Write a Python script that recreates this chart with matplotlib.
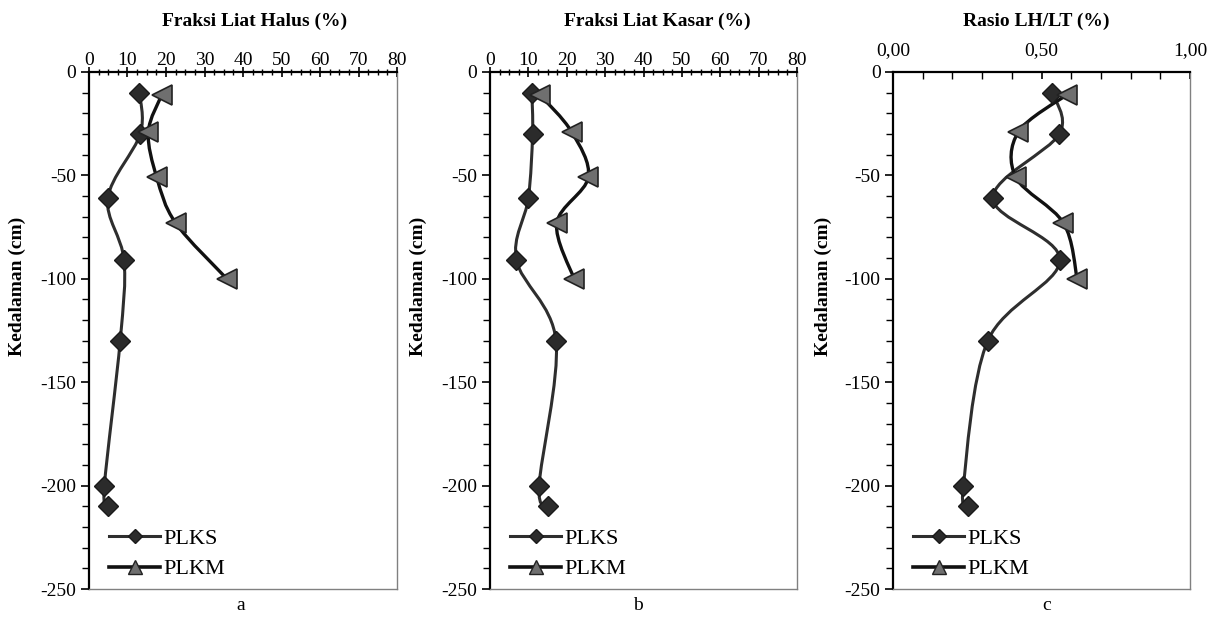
import matplotlib.pyplot as plt
import numpy as np
from matplotlib.path import Path
from matplotlib.patches import PathPatch
from matplotlib.lines import Line2D
from matplotlib.ticker import MultipleLocator, FixedLocator

plt.rcParams['font.family'] = ['Liberation Serif', 'DejaVu Serif']
plt.rcParams['axes.unicode_minus'] = False

# depths (cm)
depth_plks = [-10, -30, -61, -91, -130, -200, -210]
depth_plkm = [-11, -29, -51, -73, -100]

# a: fine clay fraction (%)
halus_plks = [13.1, 13.3, 4.9, 9.1, 8.1, 4.0, 4.9]
halus_plkm = [18.9, 15.4, 17.6, 22.5, 35.8]

# b: coarse clay fraction (%)
kasar_plks = [10.9, 11.1, 10.0, 6.9, 17.2, 12.8, 15.2]
kasar_plkm = [13.0, 21.3, 25.6, 17.4, 21.9]

# c: ratio LH/LT
rasio_plks = [0.536, 0.560, 0.336, 0.562, 0.319, 0.237, 0.251]
rasio_plkm = [0.585, 0.422, 0.414, 0.574, 0.620]

titles = ['Fraksi Liat Halus (%)', 'Fraksi Liat Kasar (%)', 'Rasio LH/LT (%)']
captions = ['a', 'b', 'c']

PX_W, PX_H = 1218, 617


def smooth_path(xs, ys):
    """Excel-like smoothed line as cubic Bezier segments"""
    pts = np.column_stack([xs, ys]).astype(float)
    n = len(pts)
    verts = [pts[0]]
    codes = [Path.MOVETO]
    for i in range(n - 1):
        p0 = pts[i - 1] if i > 0 else pts[i]
        p1, p2 = pts[i], pts[i + 1]
        p3 = pts[i + 2] if i + 2 < n else pts[i + 1]
        c1 = p1 + (p2 - p0) / 6.0
        c2 = p2 - (p3 - p1) / 6.0
        verts += [c1, c2, p2]
        codes += [Path.CURVE4] * 3
    return Path(verts, codes)


def fig_rect(x0, x1, y0, y1):
    return [x0 / PX_W, 1 - y1 / PX_H, (x1 - x0) / PX_W, (y1 - y0) / PX_H]


fig = plt.figure(figsize=(12.18, 6.17), dpi=100)

rects = [fig_rect(89, 397, 72, 589), fig_rect(490, 797, 72, 589), fig_rect(893, 1190, 72, 589)]
data = [(halus_plks, halus_plkm), (kasar_plks, kasar_plkm), (rasio_plks, rasio_plkm)]
title_x = [255, 657, 1036]
cap_x = [241, 638, 1047]

for k, (rect, (s_plks, s_plkm)) in enumerate(zip(rects, data)):
    ax = fig.add_axes(rect)

    # smoothed lines
    ax.add_patch(PathPatch(smooth_path(s_plks, depth_plks), fill=False,
                           edgecolor='#2e2e2e', linewidth=2.2, zorder=2))
    ax.add_patch(PathPatch(smooth_path(s_plkm, depth_plkm), fill=False,
                           edgecolor='#111111', linewidth=2.4, zorder=2))
    # markers
    ax.plot(s_plks, depth_plks, linestyle='none', marker='D', markersize=10,
            markerfacecolor='#2b2b2b', markeredgecolor='#1a1a1a', zorder=3)
    ax.plot(s_plkm, depth_plkm, linestyle='none', marker='<', markersize=15,
            markerfacecolor='#6f6f6f', markeredgecolor='#222222', markeredgewidth=1.2, zorder=4)

    ax.set_ylim(-250, 0)
    ax.yaxis.set_major_locator(MultipleLocator(50))
    ax.yaxis.set_minor_locator(MultipleLocator(10))
    ax.tick_params(axis='y', which='major', direction='out', length=6, width=1.2,
                   labelsize=14, pad=3)
    ax.tick_params(axis='y', which='minor', direction='out', length=5, width=1.0)

    ax.xaxis.set_ticks_position('top')
    ax.xaxis.set_label_position('top')
    if k < 2:
        ax.set_xlim(0, 80)
        ax.xaxis.set_major_locator(MultipleLocator(10))
        ax.xaxis.set_minor_locator(MultipleLocator(2.5))
        ax.tick_params(axis='x', which='major', direction='inout', length=7, width=1.2,
                       labelsize=14, pad=-1)
        ax.tick_params(axis='x', which='minor', direction='inout', length=5, width=1.0)
    else:
        ax.set_xlim(0, 1)
        ax.xaxis.set_major_locator(FixedLocator([0, 0.5, 1.0]))
        ax.set_xticklabels(['0,00', '0,50', '1,00'])
        ax.xaxis.set_minor_locator(MultipleLocator(0.1))
        ax.tick_params(axis='x', which='major', direction='in', length=5, width=1.2,
                       labelsize=14, pad=9)
        ax.tick_params(axis='x', which='minor', direction='in', length=5, width=1.0)

    for side in ['left', 'top']:
        ax.spines[side].set_color('black')
        ax.spines[side].set_linewidth(1.6)
    for side in ['right', 'bottom']:
        ax.spines[side].set_color('#808080')
        ax.spines[side].set_linewidth(1.0)

    ax.set_ylabel('Kedalaman (cm)', fontsize=14, fontweight='bold')
    ax.yaxis.set_label_coords(-0.205, 0.586)

    handles = [
        Line2D([], [], color='#2e2e2e', linewidth=2.2, marker='D', markersize=7,
               markerfacecolor='#2b2b2b', markeredgecolor='#1a1a1a'),
        Line2D([], [], color='#111111', linewidth=2.6, marker='^', markersize=10,
               markerfacecolor='#6f6f6f', markeredgecolor='#222222'),
    ]
    ax.legend(handles, ['PLKS', 'PLKM'], loc='lower left', frameon=False,
              fontsize=16, handlelength=2.3, handletextpad=0.15, labelspacing=0.45,
              bbox_to_anchor=(0.0, -0.02))

    fig.text(title_x[k] / PX_W, 1 - 21 / PX_H, titles[k], ha='center', va='center',
             fontsize=14, fontweight='bold')
    fig.text(cap_x[k] / PX_W, 1 - 605 / PX_H, captions[k], ha='center', va='center',
             fontsize=14)

fig.savefig('out.png', dpi=100)
